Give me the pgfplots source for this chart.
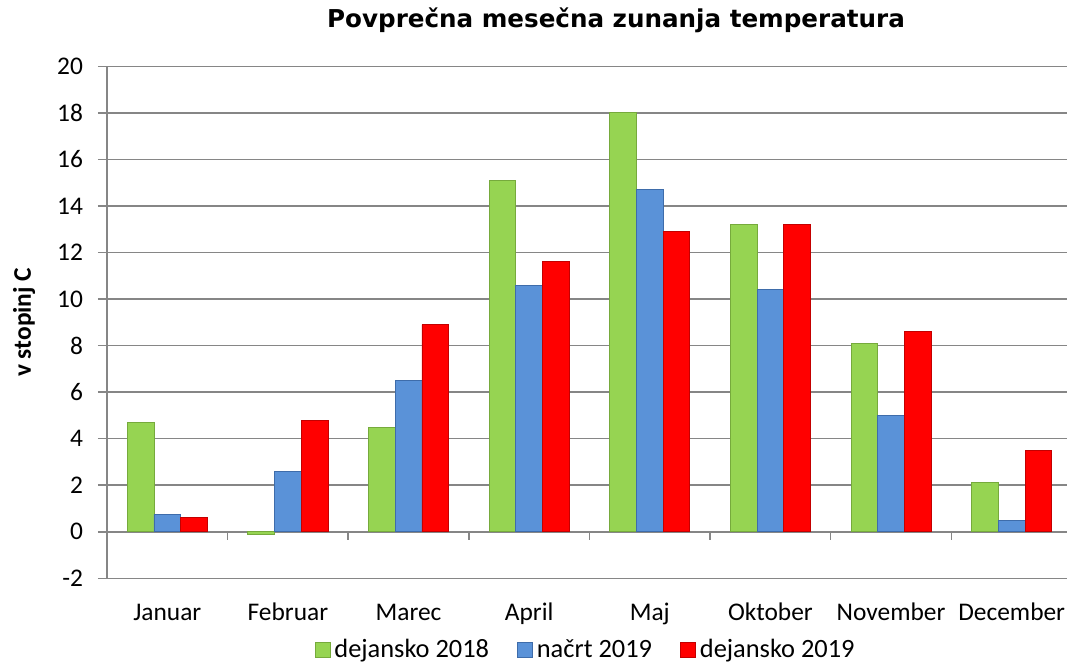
\documentclass[border=0pt]{standalone}
\usepackage{pgfplots}
\pgfplotsset{compat=1.18}
\usepackage{fontspec}
\setmainfont{Carlito}
\newfontfamily\titlefont{DejaVu Sans}
\definecolor{gridgray}{RGB}{134,134,134}
\definecolor{cgreen}{RGB}{150,212,82}
\definecolor{cgreenE}{RGB}{118,170,60}
\definecolor{cblue}{RGB}{90,146,216}
\definecolor{cblueE}{RGB}{62,108,170}
\definecolor{cred}{RGB}{255,0,0}
\definecolor{credE}{RGB}{195,0,0}
\begin{document}
\begin{tikzpicture}
\useasboundingbox (0,0) rectangle (533.5pt,333pt);
\begin{axis}[
  at={(53.5pt,43.85pt)}, anchor=south west,
  width=482.5pt, height=256pt, scale only axis,
  xmin=-0.5, xmax=7.5, ymin=-2, ymax=20,
  ytick={-2,0,...,20},
  xtick={0,...,7},
  xticklabels={Januar,Februar,Marec,April,Maj,Oktober,November,December},
  axis y line*=left, axis x line*=bottom,
  axis line style={draw=gridgray, line width=0.75pt, -},
  ymajorgrids, grid style={draw=gridgray, line width=0.75pt},
  ytick style={draw=gridgray, line width=0.75pt},
  xtick style={draw=none},
  tick align=outside, major tick length=4.5pt,
  tick label style={font=\fontsize{12.7}{15}\selectfont},
  /pgf/number format/assume math mode=true,
  yticklabel style={xshift=-4pt},
  xticklabel style={anchor=base, yshift=-16.5pt},
  ylabel={v stopinj C},
  ylabel style={font=\bfseries\fontsize{12.7}{15}\selectfont, at={(axis description cs:-0.086,0.5)}, anchor=center},
  title={Povprečna mesečna zunanja temperatura},
  title style={font=\titlefont\bfseries\fontsize{12.3}{15}\selectfont, at={(axis description cs:0.5275,1.067)}, anchor=center},
  legend style={at={(axis description cs:0.497,-0.140)}, anchor=center, legend columns=3, draw=none, fill=none,
    font=\fontsize{13.2}{15}\selectfont, /tikz/every even column/.append style={column sep=12pt},
    nodes={inner xsep=2pt}},
  legend image code/.code={\draw[#1, line width=0.4pt] (0pt,-3.75pt) rectangle (7.5pt,3.75pt);},
]
\addplot[forget plot, draw=gridgray, line width=0.75pt] coordinates {(-0.5,0) (7.5,0)};
\addplot[forget plot, ycomb, draw=gridgray, line width=0.75pt, mark=none] coordinates {(0.5,-0.36) (1.5,-0.36) (2.5,-0.36) (3.5,-0.36) (4.5,-0.36) (5.5,-0.36) (6.5,-0.36)};
\addplot[ybar, bar width=13.35pt, bar shift=-13.35pt, draw=cgreenE, line width=0.4pt, fill=cgreen]
  coordinates {(0,4.7) (1,-0.1) (2,4.5) (3,15.1) (4,18.0) (5,13.2) (6,8.1) (7,2.1)};
\addplot[ybar, bar width=13.35pt, bar shift=0pt, draw=cblueE, line width=0.4pt, fill=cblue]
  coordinates {(0,0.75) (1,2.6) (2,6.5) (3,10.6) (4,14.7) (5,10.4) (6,5.0) (7,0.5)};
\addplot[ybar, bar width=13.35pt, bar shift=13.35pt, draw=credE, line width=0.4pt, fill=cred]
  coordinates {(0,0.6) (1,4.8) (2,8.9) (3,11.6) (4,12.9) (5,13.2) (6,8.6) (7,3.5)};
\legend{dejansko 2018, načrt 2019, dejansko 2019}
\end{axis}
\end{tikzpicture}
\end{document}
